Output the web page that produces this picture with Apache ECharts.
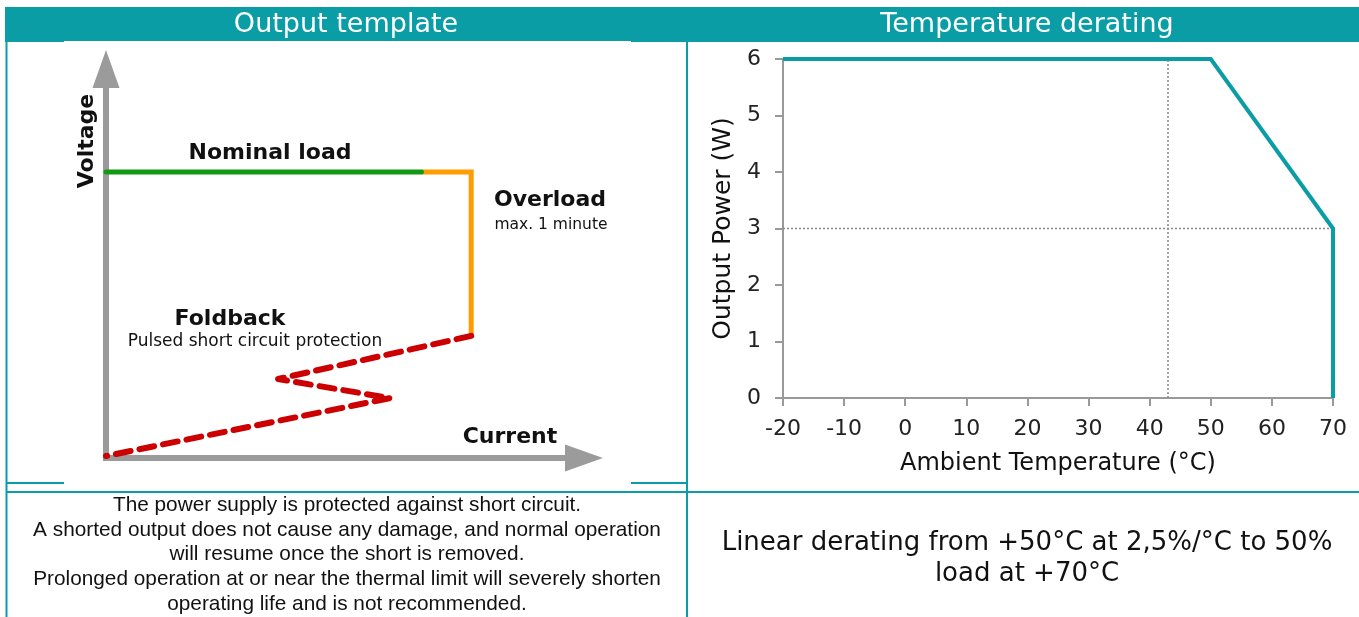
<!DOCTYPE html>
<html>
<head>
<meta charset="utf-8">
<script src="https://cdn.jsdelivr.net/npm/echarts@6/dist/echarts.min.js"></script>
<style>
html,body{margin:0;padding:0;background:#fff;}
#chart{width:1359px;height:617px;}
</style>
</head>
<body>
<div id="chart"></div>
<script>
// ---- Data ----
// Output template diagram (abstract current/voltage units, 0..100)
const nominalLoad = [[0, 73.5], [66, 73.5]];
const overload = [[66, 73.5], [76.4, 73.5], [76.4, 31.4]];
const foldback = [[76.4, 31.4], [36, 20.3], [59.4, 15.4], [0, 0.5]];

// Temperature derating
const temperatures = [-20, 50, 70, 70];
const outputPower = [6, 6, 3, 0];
const refPower = 3;      // W, dotted horizontal guide
const refTemp = 43;      // degC, dotted vertical guide
const tempMin = -20, tempMax = 70, tempStep = 10;
const powerMin = 0, powerMax = 6, powerStep = 1;

const titles = ['Output template', 'Temperature derating'];
const leftNote = [
  'The power supply is protected against short circuit.',
  'A shorted output does not cause any damage, and normal operation',
  'will resume once the short is removed.',
  'Prolonged operation at or near the thermal limit will severely shorten',
  'operating life and is not recommended.'
];
const rightNote = ['Linear derating from +50\u00B0C at 2,5%/\u00B0C to 50%', 'load at +70\u00B0C'];

// ---- Styles ----
const TEAL = '#0a9da6';
const FONT = 'DejaVu Sans, sans-serif';
const deratingData = temperatures.map((t, i) => [t, outputPower[i]]);

const chart = echarts.init(document.getElementById('chart'), null, {renderer: 'canvas'});

function txt(text, x, y, size, weight, extra, fill) {
  return Object.assign({
    type: 'text', x: x, y: y, z: 10,
    style: {text: text, fill: fill || '#111', font: (weight || 'normal') + ' ' + size + 'px ' + FONT,
      align: 'center', verticalAlign: 'middle'}
  }, extra || {});
}

const graphics = [
  {type: 'rect', shape: {x: 5, y: 7, width: 1354, height: 35}, style: {fill: TEAL}, z: 1},
  {type: 'rect', shape: {x: 64, y: 41, width: 567, height: 2}, style: {fill: '#fff'}, z: 2},
  {type: 'line', shape: {x1: 6.5, y1: 42, x2: 6.5, y2: 617}, style: {stroke: TEAL, lineWidth: 2}, z: 1},
  {type: 'line', shape: {x1: 687, y1: 42, x2: 687, y2: 617}, style: {stroke: TEAL, lineWidth: 2}, z: 1},
  {type: 'line', shape: {x1: 6, y1: 492, x2: 1359, y2: 492}, style: {stroke: TEAL, lineWidth: 2}, z: 1},
  {type: 'line', shape: {x1: 6, y1: 483, x2: 64, y2: 483}, style: {stroke: TEAL, lineWidth: 2}, z: 1},
  {type: 'line', shape: {x1: 631, y1: 483, x2: 687, y2: 483}, style: {stroke: TEAL, lineWidth: 2}, z: 1},
  txt(titles[0], 346, 25, 27, 'normal', null, '#fff'),
  txt(titles[1], 1027, 25, 27, 'normal', null, '#fff'),
  txt('Voltage', 87, 141, 22, 'bold', {rotation: Math.PI / 2}),
  txt('Nominal load', 270, 153, 22, 'bold'),
  txt('Overload', 550, 200, 22, 'bold'),
  txt('max. 1 minute', 551, 225, 15.5),
  txt('Foldback', 230, 319, 22, 'bold'),
  txt('Pulsed short circuit protection', 255, 342, 17),
  txt('Current', 510, 437, 22, 'bold')
];
leftNote.forEach((line, i) => {
  graphics.push({type: 'text', x: 347, y: 505 + i * 24.8, z: 10,
    style: {text: line, fill: '#111', font: '20.8px Liberation Sans, Arial, sans-serif', align: 'center', verticalAlign: 'middle'}});
});
rightNote.forEach((line, i) => {
  graphics.push({type: 'text', x: 1027, y: 543 + i * 31, z: 10,
    style: {text: line, fill: '#111', font: '26px ' + FONT, align: 'center', verticalAlign: 'middle'}});
});

const arrowAxisLine = {
  show: true, symbol: ['none', 'triangle'], symbolSize: [27, 38],
  lineStyle: {color: '#9b9b9b', width: 6, cap: 'square'}
};

const option = {
  animation: false,
  backgroundColor: '#fff',
  grid: [
    {left: 106, top: 69, width: 478, height: 389},
    {left: 783, top: 59, width: 550, height: 339}
  ],
  xAxis: [
    {gridIndex: 0, type: 'value', min: 0, max: 100, axisLine: arrowAxisLine,
      axisTick: {show: false}, axisLabel: {show: false}, splitLine: {show: false}},
    {gridIndex: 1, type: 'value', min: tempMin, max: tempMax, interval: tempStep,
      axisLine: {show: true, onZero: false, lineStyle: {color: '#999', width: 2}},
      axisTick: {show: true, length: 8, lineStyle: {color: '#999', width: 2}},
      axisLabel: {color: '#222', fontSize: 22, fontFamily: FONT, margin: 20},
      splitLine: {show: false},
      name: 'Ambient Temperature (\u00B0C)', nameLocation: 'middle', nameGap: 54,
      nameTextStyle: {color: '#111', fontSize: 24, fontFamily: FONT}}
  ],
  yAxis: [
    {gridIndex: 0, type: 'value', min: 0, max: 100, axisLine: arrowAxisLine,
      axisTick: {show: false}, axisLabel: {show: false}, splitLine: {show: false}},
    {gridIndex: 1, type: 'value', min: powerMin, max: powerMax, interval: powerStep,
      axisLine: {show: true, onZero: false, lineStyle: {color: '#999', width: 2}},
      axisTick: {show: true, length: 8, lineStyle: {color: '#999', width: 2}},
      axisLabel: {color: '#222', fontSize: 22, fontFamily: FONT, margin: 22},
      splitLine: {show: false},
      name: 'Output Power (W)', nameLocation: 'middle', nameGap: 47, nameRotate: 90,
      nameTextStyle: {color: '#111', fontSize: 25, fontFamily: FONT}}
  ],
  graphic: graphics,
  series: [
    {type: 'line', xAxisIndex: 0, yAxisIndex: 0, data: overload, symbol: 'none', z: 3,
      lineStyle: {color: '#ff9c00', width: 5, join: 'miter'}},
    {type: 'line', xAxisIndex: 0, yAxisIndex: 0, data: nominalLoad, symbol: 'none', z: 4,
      lineStyle: {color: '#119a11', width: 5, cap: 'round'}},
    {type: 'line', xAxisIndex: 0, yAxisIndex: 0, data: foldback, symbol: 'none', z: 4,
      lineStyle: {color: '#cc0000', width: 6, type: [15, 9], cap: 'round', join: 'round'}},
    {type: 'line', xAxisIndex: 1, yAxisIndex: 1, data: [[tempMin, refPower], [tempMax, refPower]], symbol: 'none', z: 2,
      lineStyle: {color: '#888', width: 1.5, type: [2, 2]}},
    {type: 'line', xAxisIndex: 1, yAxisIndex: 1, data: [[refTemp, powerMin], [refTemp, powerMax]], symbol: 'none', z: 2,
      lineStyle: {color: '#888', width: 1.5, type: [2, 2]}},
    {type: 'line', xAxisIndex: 1, yAxisIndex: 1, data: deratingData, symbol: 'none', z: 5,
      lineStyle: {color: TEAL, width: 4, join: 'miter'}}
  ]
};
chart.setOption(option);
</script>
</body>
</html>
